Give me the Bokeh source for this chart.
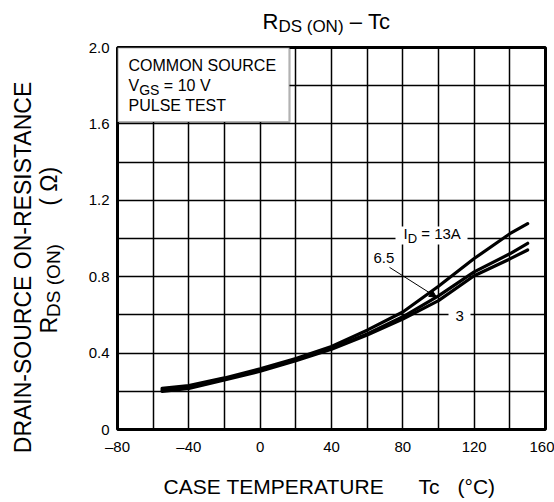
import math
from bokeh.plotting import figure
from bokeh.layouts import column, row
from bokeh.models import Range1d, FixedTicker, Label, BoxAnnotation, Arrow, NormalHead
from bokeh.embed import file_html
from bokeh.resources import INLINE

# ---- data ----
temps = [-55, -40, -20, 0, 20, 40, 60, 80, 100, 120, 140, 150]
r_13a = [0.215, 0.23, 0.27, 0.318, 0.372, 0.435, 0.52, 0.615, 0.75, 0.895, 1.025, 1.078]
r_6p5 = [0.207, 0.222, 0.265, 0.31, 0.365, 0.425, 0.50, 0.59, 0.70, 0.825, 0.92, 0.975]
r_3a = [0.200, 0.215, 0.26, 0.305, 0.36, 0.42, 0.495, 0.578, 0.675, 0.805, 0.893, 0.94]

x_ticks = [-80, -40, 0, 40, 80, 120, 160]
x_tick_labels = ["\u201380", "\u201340", "0", "40", "80", "120", "160"]
y_ticks = [0, 0.4, 0.8, 1.2, 1.6, 2.0]
y_tick_labels = ["0", "0.4", "0.8", "1.2", "1.6", "2.0"]
x_grid = [-80 + 20 * i for i in range(13)]
y_grid = [round(0.2 * i, 1) for i in range(11)]

FONT = "Liberation Sans"
TOTAL_W, TOTAL_H = 554, 502
TOP_H = 38          # title strip
LEFT_W = 70         # y-label strip
MAIN_H = 419        # main figure (frame 384 px tall)
BOT_H = TOTAL_H - TOP_H - MAIN_H
RIGHT_W = TOTAL_W - LEFT_W

# ---- main chart ----
p = figure(width=RIGHT_W, height=MAIN_H, output_backend="svg", toolbar_location=None,
           x_range=Range1d(-80, 160), y_range=Range1d(0, 2.0), title_location=None,
           min_border_left=47, min_border_right=9, min_border_top=9, min_border_bottom=26)
p.outline_line_color = "black"
p.outline_line_width = 3
p.background_fill_color = "white"

for g, t in ((p.xgrid, x_grid), (p.ygrid, y_grid)):
    g.ticker = FixedTicker(ticks=t)
    g.grid_line_color = "black"
    g.grid_line_width = 1.5
    g.grid_line_alpha = 1.0

p.xaxis.ticker = FixedTicker(ticks=x_ticks)
p.xaxis.major_label_overrides = {t: s for t, s in zip(x_ticks, x_tick_labels)}
p.yaxis.ticker = FixedTicker(ticks=y_ticks)
p.yaxis.major_label_overrides = {t: s for t, s in zip(y_ticks, y_tick_labels)}
for ax in (p.xaxis, p.yaxis):
    ax.axis_line_color = None
    ax.major_tick_line_color = None
    ax.minor_tick_line_color = None
    ax.major_tick_out = 0
    ax.major_tick_in = 0
    ax.minor_tick_out = 0
    ax.minor_tick_in = 0
    ax.major_label_text_font = FONT
    ax.major_label_text_font_size = "15px"
    ax.major_label_text_color = "black"
p.xaxis.major_label_standoff = 8
p.yaxis.major_label_standoff = 8

for ys in (r_13a, r_6p5, r_3a):
    p.line(temps, ys, line_color="black", line_width=3.2, line_join="round", line_cap="round")

# ---- text helpers ----
W = {"A": .667, "B": .667, "C": .722, "D": .722, "E": .667, "G": .778, "I": .278, "M": .833,
     "N": .722, "O": .778, "P": .667, "R": .722, "S": .667, "T": .611, "U": .722, "V": .667,
     " ": .278, "\u00a0": .278, "(": .333, ")": .333, "=": .584, "-": .333, "\u2013": .556,
     "c": .5, "\u03a9": .768, ".": .278, "\u00b0": .4}
BASE_FIX = 0.34   # label anchor sits this many em above the drawn baseline


def width(s, size):
    return sum(W.get(ch, .556) for ch in s) * size


def main_xy(px, py):
    return -80 + (px - 117) * 240 / 428, (431 - py) / 192


def strip(w, h):
    f = figure(width=w, height=h, output_backend="svg", toolbar_location=None,
               x_range=Range1d(0, w), y_range=Range1d(0, h), title_location=None,
               min_border_left=0, min_border_right=0, min_border_top=0, min_border_bottom=0,
               x_axis_type=None, y_axis_type=None)
    f.outline_line_color = None
    f.grid.visible = False
    f.background_fill_color = "white"
    return f


left = strip(LEFT_W, TOTAL_H)
top = strip(RIGHT_W, TOP_H)
bottom = strip(RIGHT_W, BOT_H)
origins = {id(left): (0, 0, TOTAL_H), id(top): (LEFT_W, 0, TOP_H),
           id(bottom): (LEFT_W, TOP_H + MAIN_H, BOT_H)}


def to_fig(fig, px, py):
    if fig is p:
        return main_xy(px, py)
    ox, oy, h = origins[id(fig)]
    return px - ox, h - (py - oy)


def txt(fig, s, px, py, size, vertical=False, align="left"):
    # (px, py): page position of the text's baseline start (or centre if align="center")
    if vertical:
        px -= BASE_FIX * size
    else:
        py -= BASE_FIX * size
    x, y = to_fig(fig, px, py)
    fig.add_layout(Label(x=x, y=y, text=s, text_font=FONT, text_font_size=f"{size}px",
                         text_align=align, text_baseline="alphabetic",
                         angle=math.pi / 2 if vertical else 0.0, text_color="black"))


def pieces(fig, parts, px, py, vertical=False):
    for s, size, shift in parts:
        if vertical:
            txt(fig, s, px + shift, py, size, vertical=True)
            py -= width(s, size)
        else:
            txt(fig, s, px, py + shift, size)
            px += width(s, size)


def white_box(px0, px1, py0, py1):
    x0, y0 = main_xy(px0, py1)
    x1, y1 = main_xy(px1, py0)
    p.add_layout(BoxAnnotation(left=x0, right=x1, bottom=y0, top=y1, fill_color="white",
                               fill_alpha=1.0, line_color=None))


# condition box
bx0, by0 = main_xy(117, 122)
bx1, by1 = main_xy(289, 47)
p.add_layout(BoxAnnotation(left=bx0, right=bx1, bottom=by0, top=by1, fill_color="white",
                           fill_alpha=1.0, line_color="black", line_width=2.2))
txt(p, "COMMON SOURCE", 128, 71, 16)
pieces(p, [("V", 16, 0), ("GS", 14, 3), ("\u00a0=\u00a010\u00a0V", 16, 0)], 128, 91)
txt(p, "PULSE TEST", 128, 111, 16)

# curve labels
white_box(395, 467, 227, 245)
pieces(p, [("I", 15, 0), ("D", 13, 4), ("\u00a0=\u00a013A", 15, 0)], 403, 239)
txt(p, "6.5", 373, 264, 15)
white_box(448, 470, 309, 325)
txt(p, "3", 455, 322, 15)
ax0, ay0 = main_xy(389, 268)
ax1, ay1 = main_xy(436, 298)
p.add_layout(Arrow(end=NormalHead(size=7, fill_color="black", line_color="black", line_width=1),
                   x_start=ax0, y_start=ay0, x_end=ax1, y_end=ay1,
                   line_color="black", line_width=1))

# title
pieces(top, [("R", 22, 0), ("DS\u00a0(ON)", 17, 4), ("\u00a0\u2013\u00a0Tc", 22, 0)], 262, 28)

# x-axis title
txt(bottom, "CASE\u00a0TEMPERATURE", 163, 493, 21)
txt(bottom, "Tc", 418, 493, 21)
txt(bottom, "(\u00b0C)", 457, 493, 21)

# y-axis title
txt(left, "DRAIN-SOURCE\u00a0ON-RESISTANCE", 30, 267, 23, vertical=True, align="center")
pieces(left, [("R", 23, 0), ("DS\u00a0(ON)", 19, 3),
              ("\u00a0" * 6 + "(\u00a0\u03a9)", 23, 0)],
       56, 333, vertical=True)

layout = row(left, column(top, row(p), bottom))
open("out.html", "w").write(file_html(layout, INLINE))
